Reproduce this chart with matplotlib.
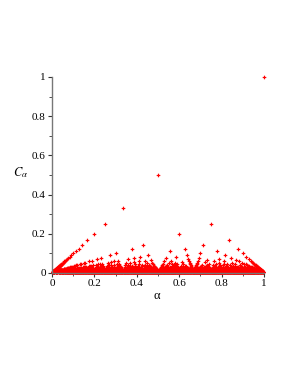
import numpy as np
import matplotlib
matplotlib.use("Agg")
import matplotlib.pyplot as plt
from math import gcd

# Data: alpha = p/q (lowest terms, p odd), C_alpha = 1/q
max_denominator = 160
alpha_vals = []
c_vals = []
for q in range(1, max_denominator + 1):
    for p in range(0, q + 1):
        if gcd(p, q) == 1 and p % 2 == 1:
            alpha_vals.append(p / q)
            c_vals.append(1.0 / q)
alpha_vals = np.array(alpha_vals)
c_vals = np.array(c_vals)

x_ticks = [0, 0.2, 0.4, 0.6, 0.8, 1]
x_tick_labels = ["0", "0.2", "0.4", "0.6", "0.8", "1"]
y_ticks = [0, 0.2, 0.4, 0.6, 0.8, 1]
y_tick_labels = ["0", "0.2", "0.4", "0.6", "0.8", "1"]

plt.rcParams['font.family'] = ['Liberation Serif', 'DejaVu Serif']
plt.rcParams['mathtext.fontset'] = 'stix'

fig = plt.figure(figsize=(2.89, 3.74), dpi=100)
ax = fig.add_axes([52/289, 1 - 273/374, 212/289, 196/374])

ax.plot(alpha_vals, c_vals, linestyle='none', marker='P', markersize=2.6,
        color='#ff0000', markeredgewidth=0.0, clip_on=False)

ax.set_xlim(0, 1)
ax.set_ylim(0, 1)
for s in ['top', 'right']:
    ax.spines[s].set_visible(False)
for s in ['left', 'bottom']:
    ax.spines[s].set_color('#777777')
    ax.spines[s].set_linewidth(1.0)
ax.set_xticks(x_ticks)
ax.set_xticklabels(x_tick_labels)
ax.set_yticks(y_ticks)
ax.set_yticklabels(y_tick_labels)
ax.set_xticks(np.arange(0.1, 1.0, 0.2), minor=True)
ax.set_yticks(np.arange(0.1, 1.0, 0.2), minor=True)
ax.tick_params(which='major', length=3, width=0.8, color='#333333', labelsize=8, pad=1.5)
ax.tick_params(which='minor', length=2, width=0.6, color='#333333')

fig.text(21/289, 1 - 173/374, r'$C_\alpha$', fontsize=9, ha='center', va='center')
fig.text(157/289, 1 - 296/374, 'α', fontsize=9, ha='center', va='center')

fig.savefig('out.png', dpi=100)
